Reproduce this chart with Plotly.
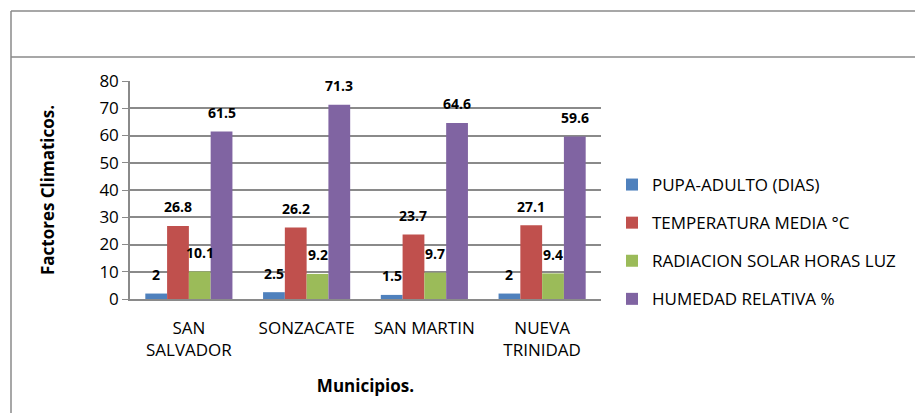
import plotly.graph_objects as go

municipios = ["SAN<br>SALVADOR", "SONZACATE", "SAN MARTIN", "NUEVA<br>TRINIDAD"]
series_names = [
    "PUPA-ADULTO (DIAS)",
    "TEMPERATURA MEDIA °C",
    "RADIACION SOLAR HORAS LUZ",
    "HUMEDAD RELATIVA %",
]
pupa_adulto = [2, 2.5, 1.5, 2]
temperatura = [26.8, 26.2, 23.7, 27.1]
radiacion = [10.1, 9.2, 9.7, 9.4]
humedad = [61.5, 71.3, 64.6, 59.6]
y_ticks = [0, 10, 20, 30, 40, 50, 60, 70, 80]

colores = ["#4F81BD", "#C0504D", "#9BBB59", "#8064A2"]
font_name = "Open Sans"
bargap = 0.26

# plot area in pixels (used to place the frame lines)
W, H = 915, 413
L, R, T, B = 130, 601, 81, 299

series = [pupa_adulto, temperatura, radiacion, humedad]

fig = go.Figure()
for j, (name, vals) in enumerate(zip(series_names, series)):
    fig.add_trace(go.Bar(
        x=municipios,
        y=vals,
        name=name,
        legendgroup=name,
        marker=dict(color=colores[j], line=dict(width=0)),
    ))

# data labels above each bar
bw = (1 - bargap) / len(series)
annotations = []
for j, vals in enumerate(series):
    for i, v in enumerate(vals):
        annotations.append(dict(
            x=i + (j - (len(series) - 1) / 2) * bw,
            y=v,
            xref="x",
            yref="y",
            text=f"<b>{v:g}</b>",
            showarrow=False,
            yanchor="middle",
            yshift=19,
            font=dict(family=font_name, size=14, color="black"),
        ))

def px_x(p):
    return (p - L) / (R - L)

def px_y(p):
    return (B - p) / (B - T)

line_style = dict(color="#8a8a8a", width=1.5)
shapes = [
    dict(type="line", xref="paper", yref="paper",
         x0=px_x(11), x1=px_x(W + 5), y0=px_y(11), y1=px_y(11), line=line_style),
    dict(type="line", xref="paper", yref="paper",
         x0=px_x(11), x1=px_x(W + 5), y0=px_y(57), y1=px_y(57), line=line_style),
    dict(type="line", xref="paper", yref="paper",
         x0=px_x(11), x1=px_x(11), y0=px_y(11), y1=px_y(H + 5), line=line_style),
]

fig.update_layout(
    width=W,
    height=H,
    margin=dict(l=L, r=W - R, t=T, b=H - B),
    paper_bgcolor="white",
    plot_bgcolor="white",
    barmode="group",
    bargap=bargap,
    bargroupgap=0,
    font=dict(family=font_name, size=17, color="black"),
    annotations=annotations,
    shapes=shapes,
    showlegend=True,
    legend=dict(
        xref="container",
        yref="container",
        x=612 / W,
        y=1 - 167 / H,
        xanchor="left",
        yanchor="top",
        traceorder="grouped",
        tracegroupgap=13,
        font=dict(family=font_name, size=17, color="black"),
        bgcolor="rgba(0,0,0,0)",
    ),
    xaxis=dict(
        showgrid=False,
        showline=True,
        linecolor="#8a8a8a",
        linewidth=1.5,
        ticks="",
        ticklabelstandoff=13,
        tickfont=dict(family=font_name, size=17),
        title=dict(text="<b>Municipios.</b>", font=dict(family=font_name, size=17), standoff=20),
    ),
    yaxis=dict(
        range=[0, 80],
        tickvals=y_ticks,
        showgrid=True,
        gridcolor="#8a8a8a",
        gridwidth=1.5,
        showline=True,
        linecolor="#8a8a8a",
        linewidth=1.5,
        ticks="outside",
        ticklen=6,
        tickcolor="#8a8a8a",
        tickfont=dict(family=font_name, size=17),
        zeroline=False,
        title=dict(text="<b>Factores Climaticos.</b>", font=dict(family=font_name, size=17), standoff=40),
    ),
)

fig.write_html(
    "out.html",
    config={"displayModeBar": False},
    post_script="document.body.style.margin = '0';",
)
